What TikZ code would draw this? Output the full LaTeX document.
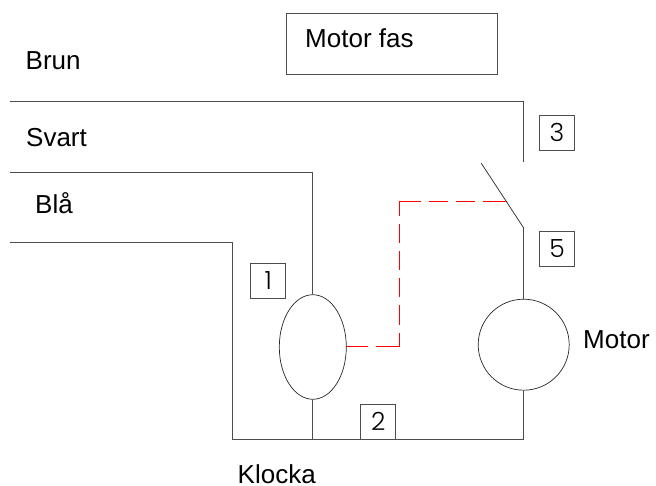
\documentclass[tikz,border=0pt]{standalone}
\usepackage{fontspec}
\setmainfont{Liberation Sans}
\newfontfamily\numfont{Poppins Light}
\usetikzlibrary{calc, positioning, shapes.geometric}

\begin{document}
\begin{tikzpicture}[
    x=1pt, y=-1pt,
    wire/.style=
    {draw=black!70, line width=1pt}, label/.style=
    {anchor=base west, inner sep=0pt, font=\fontsize{26}{26}\selectfont},
    numbox/.style=
    {draw=black!70, line width=.9pt, minimum size=35pt, inner sep=0pt, font=\numfont\fontsize{25}{25}\selectfont},
    part/.style=
    {draw=black!85, line width=.7pt, inner sep=0pt},
    redwire/.style=
    {draw=red, line width=1pt,
    dash pattern=on 22pt off 8pt on 37pt off 8pt on 19.2pt off 8pt on 19.2pt off 8pt on 19.2pt off 8pt on 19.2pt off 8pt on 36pt off 8pt on 19pt off 8pt on 19pt off 8pt on 30pt}]
    \useasboundingbox (0,0) rectangle (656,486);
    \node (fas box) [draw=black!70, line width=.9pt, minimum width=211.5pt, minimum height=60.5pt, inner sep=0pt] at (392,43.8) {};
    \node (fas) [label] at (305,48) {Motor fas};
    \node (brun) [label] at (25.5,70) {Brun};
    \node (svart) [label] at (26,146.7) {Svart};
    \node (bla) [label] at (35,214) {Blå};
    \node (motor text) [label] at (583,348.3) {Motor};
    \node (klocka) [label] at (237.5,483.3) {Klocka};
    \node (clock) [part, ellipse, minimum width=67pt, minimum height=104.6pt] at (312.8,347) {};
    \node (motor) [part, circle, minimum size=91pt] at (523.7,344.7) {};
    \node (n1) [numbox] at (268.2,280.8) {1};
    \node (n2) [numbox] at (378.2,421.8) {2};
    \node (n3) [numbox] at (557,132.5) {3};
    \node (n5) [numbox] at (557,249) {5};
    \coordinate (brun start) at (10,101.7);
    \coordinate (svart start) at (10,172.7);
    \coordinate (bla start) at (10,243);
    \coordinate (contact) at (523.7,161.7);
    \coordinate (pivot) at (523.7,228);
    \coordinate (blade) at (481.3,163.3);
    \coordinate (blade link) at (506,201.3);
    \coordinate (red low) at (399.3,346.7);
    \coordinate (red high) at (399.3,201.3);
    \coordinate (clock east) at (346.3,346.7);
    \coordinate (bottom left) at (232.7,439);
    \coordinate (bottom right) at (523.7,439);
    \draw[wire] (brun start) -| (contact);
    \draw[wire] (svart start) -| (clock.north);
    \draw[wire] (bla start) -| (bottom left) -- (bottom right) -- (motor.south);
    \draw[wire] (clock.south) -- (clock.south |- bottom left);
    \draw[wire] (pivot) -- (motor.north);
    \draw[part] (pivot) -- (blade);
    \draw[redwire] (clock east) -- (red low) -- (red high) -- (blade link);
\end{tikzpicture}
\end{document}
